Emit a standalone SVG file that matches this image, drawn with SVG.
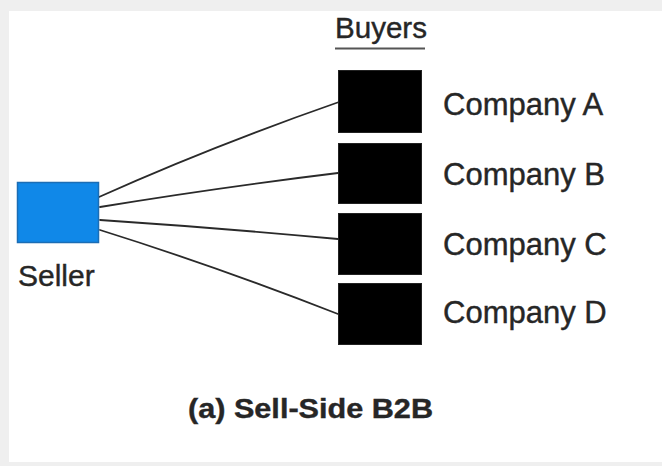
<svg xmlns="http://www.w3.org/2000/svg" width="662" height="466" viewBox="0 0 662 466">
<style>
  .lbl { font-family: "Liberation Sans", Arial, sans-serif; fill: #262626; stroke: #262626; stroke-width: 0.4; }
  .co { font-size: 31px; }
  .buyer { fill: #000; stroke: #222; stroke-width: 1; }
  .conn { fill: none; stroke: #2a2a2a; stroke-width: 1.8; stroke-linecap: round; }
</style>
<rect x="0" y="0" width="662" height="466" fill="#efefef"/>
<rect x="9" y="11" width="653" height="451" fill="#ffffff"/>

<g id="connectors">
  <path class="conn" d="M99,197 Q210,147 339,102"/>
  <path class="conn" d="M100,207 Q215,188 338,173"/>
  <path class="conn" d="M100,220 Q220,228 338,239"/>
  <path class="conn" d="M100,230 Q215,266 338,314"/>
</g>

<g id="seller">
  <rect x="17.5" y="182.5" width="81" height="60" fill="#1088e8" stroke="#1b6db5" stroke-width="1.5"/>
  <text class="lbl" x="18" y="286" font-size="30">Seller</text>
</g>

<g id="buyers-header">
  <text class="lbl" x="335" y="38" font-size="29" textLength="92" lengthAdjust="spacingAndGlyphs">Buyers</text>
  <line x1="335" y1="48.5" x2="425" y2="48.5" stroke="#555" stroke-width="2"/>
</g>

<g id="company-a">
  <rect class="buyer" x="338.5" y="70.5" width="83" height="62"/>
  <text class="lbl co" x="443" y="115">Company A</text>
</g>
<g id="company-b">
  <rect class="buyer" x="338.5" y="143.5" width="83" height="60"/>
  <text class="lbl co" x="443" y="185">Company B</text>
</g>
<g id="company-c">
  <rect class="buyer" x="338.5" y="213.5" width="83" height="61"/>
  <text class="lbl co" x="443" y="255">Company C</text>
</g>
<g id="company-d">
  <rect class="buyer" x="338.5" y="283.5" width="83" height="61"/>
  <text class="lbl co" x="443" y="323">Company D</text>
</g>

<g id="caption">
  <text class="lbl" x="188" y="418" font-size="28" font-weight="bold" fill="#111" textLength="245" lengthAdjust="spacingAndGlyphs">(a) Sell-Side B2B</text>
</g>
</svg>
